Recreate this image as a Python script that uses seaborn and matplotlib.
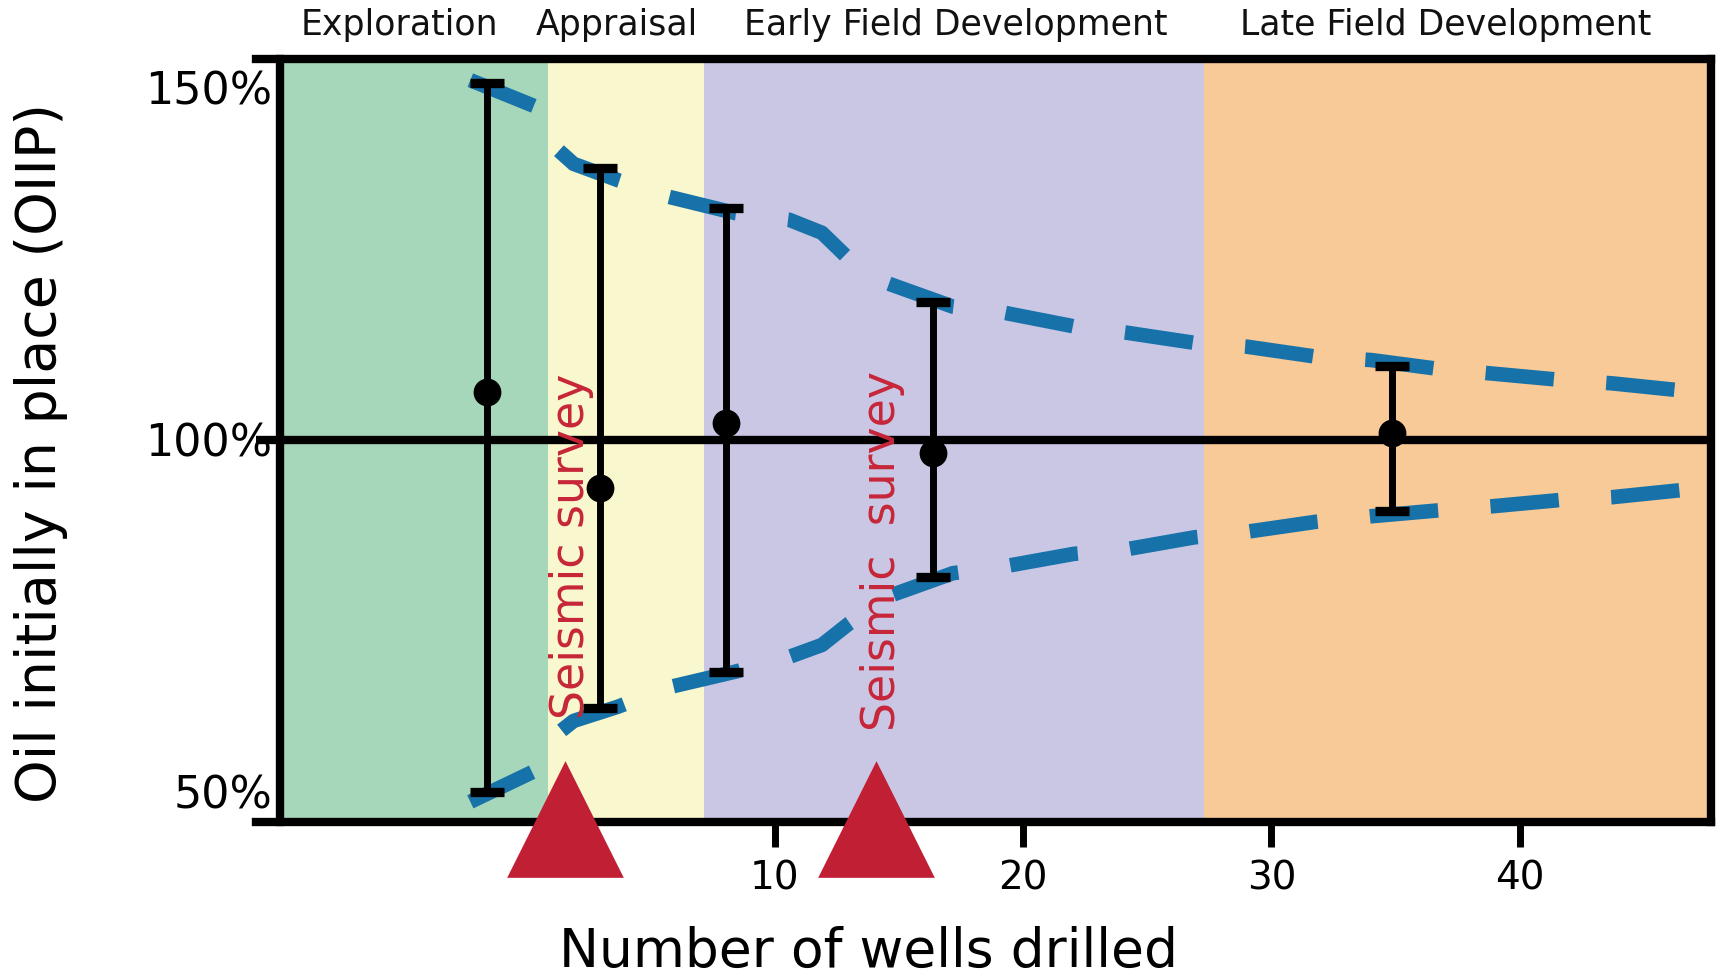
import numpy as np
import pandas as pd
import matplotlib
matplotlib.use("Agg")
import matplotlib.pyplot as plt
import seaborn as sns

# Phases along the well-count axis
phase_names = ["Exploration", "Appraisal", "Early Field Development", "Late Field Development"]
phase_edges = [-9.94, 0.88, 7.17, 27.3, 47.7]
phase_label_x = [-5.1, 3.65, 17.3, 37.0]
phase_colors = ["#a7d7bb", "#f9f7cd", "#cac7e5", "#f8ca98"]

# OIIP estimate (dot) and its low / high range at each stage
well_x = [-1.59, 2.96, 8.05, 16.37, 34.87]
oiip_mid = [106.8, 93.1, 102.3, 98.05, 100.9]
oiip_low = [49.9, 61.9, 66.9, 80.5, 89.9]
oiip_high = [150.65, 138.65, 132.9, 119.5, 110.5]

# Uncertainty envelope (dashed blue)
env_x = [-2.26, 0.40, 1.11, 1.90, 3.67, 5.75, 8.41, 10.58, 11.90, 13.01, 14.56, 17.17,
         19.29, 22.04, 24.16, 26.90, 29.03, 31.77, 34.03, 36.62, 38.85, 41.60, 43.70, 46.46]
env_upper = [151.1, 147.3, 141.7, 139.2, 136.9, 134.5, 132.2, 131.25, 129.4, 125.6, 122.2, 118.9,
             118.0, 116.1, 115.2, 113.75, 113.2, 111.8, 111.3, 110.1, 109.4, 108.5, 108.0, 107.0]
env_lower = [48.5, 53.0, 57.8, 60.0, 62.0, 64.8, 67.0, 69.1, 70.8, 73.9, 77.7, 81.0,
             82.0, 83.75, 84.4, 86.1, 86.9, 88.3, 89.1, 89.9, 90.5, 91.4, 91.8, 92.8]

# Seismic surveys
seismic_x = [1.57, 14.09]
seismic_marker_y = [46.1, 46.1]
seismic_labels = ["Seismic survey", "Seismic  survey"]
seismic_label_x = [1.8, 14.34]
seismic_label_y = [84.8, 84.1]

x_ticks = [10, 20, 30, 40]
y_ticks = [50, 100, 150]
y_ticklabels = ["50%", "100%", "150%"]

blue = "#1772a9"
red = "#c01f34"

sns.set_theme(style="white")
plt.rcParams["font.family"] = ["DejaVu Sans"]

fig = plt.figure(figsize=(17.23, 9.76), dpi=100)
ax = fig.add_axes([0.1483, 0.1581, 0.8447, 0.7811])
ax.set_facecolor("white")

# coloured phase bands + their titles above the frame
for i, name in enumerate(phase_names):
    ax.axvspan(phase_edges[i], phase_edges[i + 1], color=phase_colors[i], lw=0, zorder=0)
    ax.text(phase_label_x[i], 1.032, name, transform=ax.get_xaxis_transform(),
            ha="center", va="baseline", fontsize=25, color="#111111")

ax.axhline(100, color="black", linewidth=6, zorder=1.5)

env = pd.DataFrame({"wells": env_x, "upper": env_upper, "lower": env_lower})
for col in ["upper", "lower"]:
    sns.lineplot(data=env, x="wells", y=col, ax=ax, color=blue, linewidth=10.5,
                 linestyle=(0, (4.7, 3.6)), zorder=2)

for lx, ly, txt in zip(seismic_label_x, seismic_label_y, seismic_labels):
    ax.text(lx, ly, txt, rotation=90, ha="center", va="center", fontsize=33,
            color="#c62638", zorder=2.5)

ax.errorbar(well_x, oiip_mid,
            yerr=[np.subtract(oiip_mid, oiip_low), np.subtract(oiip_high, oiip_mid)],
            fmt="o", color="black", ms=19, elinewidth=5, capsize=12, capthick=6.7, zorder=3)

sns.scatterplot(x=seismic_x, y=seismic_marker_y, marker="^", s=84 ** 2, color=red,
                linewidth=0, ax=ax, zorder=4, clip_on=False)

for sp in ax.spines.values():
    sp.set_linewidth(6)
    sp.set_color("black")
    sp.set_visible(True)
ax.spines["left"].set_position(("data", phase_edges[0]))

ax.set_xlim(-10.91, 47.70)
ax.set_ylim(45.67, 154.06)
ax.set_xticks(x_ticks, [str(t) for t in x_ticks])
ax.set_yticks(y_ticks, y_ticklabels)
ax.tick_params(axis="x", bottom=True, direction="out", length=18, width=5, labelsize=28,
               pad=9, colors="black")
ax.tick_params(axis="y", left=False, length=0, labelsize=32, pad=5, colors="black")
ax.set_xlabel("")
ax.set_ylabel("")

fig.text(0.0239, 0.5358, "Oil initially in place (OIIP)", rotation=90, ha="center",
         va="center", fontsize=40, color="black")
fig.text(0.504, 0.0092, "Number of wells drilled", ha="center", va="baseline",
         fontsize=38.5, color="black")

fig.savefig("out.png", dpi=100)
